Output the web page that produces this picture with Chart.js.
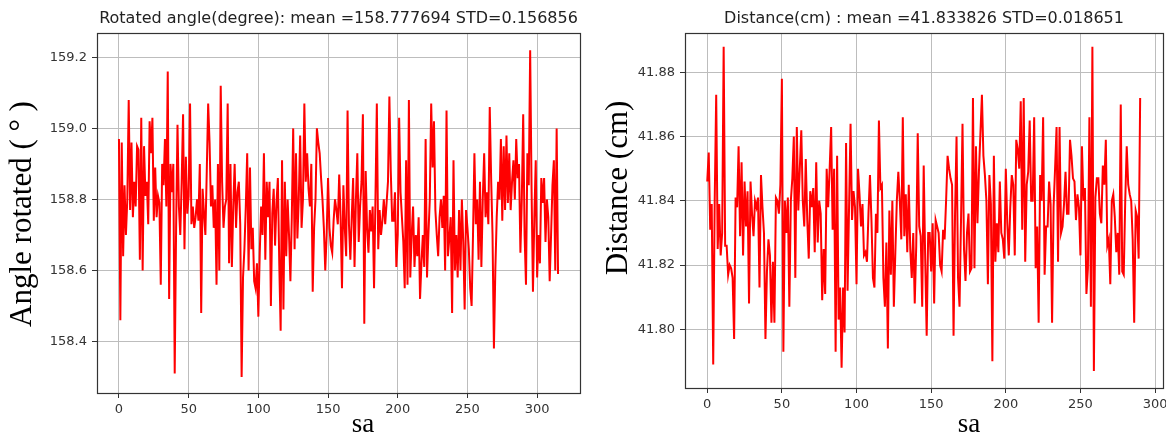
<!DOCTYPE html>
<html>
<head>
<meta charset="utf-8">
<script src="https://cdn.jsdelivr.net/npm/chart.js@4.4.1/dist/chart.umd.min.js"></script>
<style>
  html, body { margin: 0; padding: 0; background: #fff; }
  #wrap { position: relative; width: 1166px; height: 436px; overflow: hidden; }
  .pane { position: absolute; top: 0; width: 583px; height: 436px; }
  #paneL { left: 0; }
  #paneR { left: 583px; }
</style>
</head>
<body>
<div id="wrap">
  <div class="pane" id="paneL"><canvas id="chAngle" width="583" height="436"></canvas></div>
  <div class="pane" id="paneR"><canvas id="chDist" width="583" height="436"></canvas></div>
</div>
<script>
/* two matplotlib-style noise traces: rotation angle and distance per sample */
var TITLE_ANGLE = "Rotated angle(degree): mean =158.777694 STD=0.156856";
var TITLE_DIST = "Distance(cm) : mean =41.833826 STD=0.018651";

var X_TICKS_ANGLE = [0, 50, 100, 150, 200, 250, 300];
var Y_TICKS_ANGLE = [158.4, 158.6, 158.8, 159.0, 159.2];
var X_TICKS_DIST = [0, 50, 100, 150, 200, 250, 300];
var Y_TICKS_DIST = [41.80, 41.82, 41.84, 41.86, 41.88];

// rotated angle, samples 0..315
var ANGLE = [
  158.97, 158.46, 158.96, 158.64, 158.84, 158.70, 158.80, 159.08, 158.77, 158.96,
  158.75, 158.85, 158.78, 158.95, 158.94, 158.63, 159.03, 158.60, 158.95, 158.81,
  158.85, 158.73, 159.02, 158.93, 159.03, 158.74, 158.89, 158.75, 158.81, 158.79,
  158.56, 158.90, 158.84, 158.97, 158.78, 159.16, 158.52, 158.90, 158.82, 158.90,
  158.31, 158.72, 159.01, 158.78, 158.70, 158.85, 159.04, 158.66, 158.92, 158.76,
  158.81, 159.07, 158.73, 158.78, 158.72, 158.75, 158.80, 158.74, 158.90, 158.48,
  158.83, 158.76, 158.70, 158.88, 159.07, 158.96, 158.78, 158.84, 158.72, 158.80,
  158.56, 158.90, 158.60, 159.12, 158.85, 158.72, 158.78, 158.80, 159.07, 158.62,
  158.90, 158.61, 158.78, 158.90, 158.72, 158.82, 158.85, 158.73, 158.30, 158.58,
  158.66, 158.78, 158.93, 158.60, 158.89, 158.66, 158.72, 158.57, 158.55, 158.62,
  158.47, 158.65, 158.78, 158.70, 158.93, 158.63, 158.85, 158.75, 158.85, 158.50,
  158.76, 158.83, 158.67, 158.79, 158.86, 158.62, 158.43, 158.91, 158.49, 158.85,
  158.64, 158.80, 158.70, 158.57, 158.75, 159.00, 158.66, 158.93, 158.69, 158.80,
  158.98, 158.72, 158.80, 159.07, 158.85, 158.93, 158.83, 158.78, 158.90, 158.54,
  158.72, 158.80, 159.00, 158.96, 158.93, 158.86, 158.80, 158.72, 158.60, 158.70,
  158.86, 158.72, 158.67, 158.65, 158.74, 158.80, 158.77, 158.73, 158.87, 158.75,
  158.55, 158.84, 158.72, 158.64, 159.05, 158.73, 158.63, 158.75, 158.86, 158.61,
  158.80, 158.93, 158.68, 158.78, 158.85, 159.04, 158.45, 158.88, 158.72, 158.65,
  158.77, 158.71, 158.78, 158.55, 158.80, 159.07, 158.66, 158.77, 158.70, 158.74,
  158.80, 158.73, 158.79, 158.85, 159.09, 158.88, 158.74, 158.74, 158.82, 158.61,
  158.70, 159.03, 158.82, 158.75, 158.68, 158.55, 158.91, 158.56, 159.08, 158.58,
  158.70, 158.78, 158.61, 158.70, 158.64, 158.75, 158.52, 158.62, 158.70, 158.61,
  158.97, 158.58, 158.70, 158.80, 159.07, 158.89, 159.02, 158.77, 158.70, 158.64,
  158.75, 158.80, 158.72, 158.81, 158.60, 159.05, 158.64, 158.69, 158.75, 158.48,
  158.91, 158.60, 158.70, 158.58, 158.77, 158.60, 158.80, 158.68, 158.49, 158.77,
  158.72, 158.66, 158.55, 158.50, 158.70, 158.93, 158.73, 158.80, 158.63, 158.85,
  158.61, 158.80, 158.93, 158.75, 158.82, 158.73, 159.06, 158.86, 158.70, 158.38,
  158.60, 158.75, 158.85, 158.80, 158.97, 158.74, 158.95, 158.77, 158.98, 158.79,
  158.93, 158.77, 158.85, 158.91, 158.80, 158.97, 158.86, 158.90, 158.65, 158.80,
  159.04, 158.70, 158.56, 158.93, 158.84, 159.22, 158.83, 158.54, 158.75, 158.91,
  158.58, 158.70, 158.62, 158.86, 158.79, 158.86, 158.68, 158.80, 158.75, 158.57,
  158.70, 158.84, 158.91, 158.60, 159.00, 158.59
];

// distance, samples 0..290
var DIST = [
  41.846, 41.855, 41.831, 41.839, 41.789, 41.840, 41.873, 41.825, 41.839, 41.823,
  41.830, 41.888, 41.826, 41.826, 41.817, 41.820, 41.819, 41.816, 41.797, 41.841,
  41.838, 41.857, 41.829, 41.852, 41.823, 41.846, 41.832, 41.843, 41.808, 41.846,
  41.836, 41.829, 41.840, 41.838, 41.841, 41.813, 41.848, 41.838, 41.830, 41.797,
  41.818, 41.828, 41.823, 41.802, 41.821, 41.802, 41.841, 41.840, 41.836, 41.845,
  41.878, 41.793, 41.840, 41.830, 41.841, 41.807, 41.840, 41.847, 41.860, 41.816,
  41.863, 41.837, 41.850, 41.862, 41.840, 41.832, 41.853, 41.834, 41.822, 41.843,
  41.838, 41.844, 41.824, 41.852, 41.827, 41.840, 41.836, 41.809, 41.825, 41.811,
  41.850, 41.838, 41.850, 41.863, 41.831, 41.850, 41.793, 41.854, 41.803, 41.813,
  41.788, 41.813, 41.799, 41.858, 41.812, 41.838, 41.864, 41.834, 41.843, 41.838,
  41.814, 41.850, 41.842, 41.832, 41.839, 41.823, 41.824, 41.821, 41.836, 41.848,
  41.834, 41.816, 41.813, 41.836, 41.830, 41.865, 41.844, 41.845, 41.816, 41.807,
  41.827, 41.794, 41.837, 41.817, 41.840, 41.807, 41.824, 41.840, 41.849, 41.840,
  41.828, 41.866, 41.829, 41.842, 41.824, 41.845, 41.825, 41.816, 41.830, 41.808,
  41.826, 41.861, 41.832, 41.829, 41.807, 41.851, 41.822, 41.798, 41.830, 41.830,
  41.818, 41.833, 41.808, 41.834, 41.832, 41.830, 41.820, 41.818, 41.831, 41.828,
  41.840, 41.854, 41.850, 41.847, 41.845, 41.798, 41.836, 41.860, 41.816, 41.807,
  41.834, 41.864, 41.825, 41.815, 41.830, 41.836, 41.818, 41.819, 41.872, 41.819,
  41.857, 41.833, 41.849, 41.861, 41.873, 41.854, 41.848, 41.840, 41.814, 41.848,
  41.839, 41.790, 41.854, 41.821, 41.833, 41.824, 41.846, 41.830, 41.828, 41.822,
  41.850, 41.833, 41.823, 41.838, 41.848, 41.845, 41.823, 41.859, 41.856, 41.850,
  41.871, 41.831, 41.872, 41.821, 41.845, 41.849, 41.865, 41.840, 41.840, 41.866,
  41.819, 41.832, 41.802, 41.848, 41.840, 41.866, 41.817, 41.832, 41.832, 41.846,
  41.839, 41.802, 41.838, 41.850, 41.863, 41.821, 41.863, 41.830, 41.832, 41.839,
  41.849, 41.836, 41.836, 41.859, 41.854, 41.847, 41.846, 41.834, 41.842, 41.838,
  41.823, 41.857, 41.840, 41.844, 41.811, 41.819, 41.866, 41.807, 41.888, 41.787,
  41.841, 41.847, 41.847, 41.836, 41.833, 41.851, 41.845, 41.859, 41.826, 41.828,
  41.814, 41.840, 41.842, 41.835, 41.824, 41.830, 41.817, 41.870, 41.818, 41.817,
  41.840, 41.857, 41.845, 41.842, 41.840, 41.828, 41.802, 41.837, 41.835, 41.822,
  41.872
];

var TICK_FONT = { family: "'DejaVu Sans', sans-serif", size: 13 };
var GRID = "#bdbdbd", INK = "#333333";

// plot frame on all four sides, like matplotlib spines
var framePlugin = {
  id: "frame",
  afterDatasetsDraw: function (c) {
    var a = c.chartArea, g = c.ctx;
    g.save();
    g.strokeStyle = INK; g.lineWidth = 1.2;
    g.strokeRect(Math.round(a.left) + 0.5, Math.round(a.top) + 0.5, Math.round(a.right - a.left), Math.round(a.bottom - a.top));
    g.restore();
  }
};

// serif axis captions that were pasted onto the original figure
function captions(yText, yx, yy, xx, xy) {
  return {
    id: "captions",
    afterDraw: function (c) {
      var g = c.ctx;
      g.save();
      g.fillStyle = "#000";
      g.textAlign = "center"; g.textBaseline = "middle";
      g.font = "31px 'Liberation Serif', serif";
      g.translate(yx, yy); g.rotate(-Math.PI / 2);
      g.fillText(yText, 0, 0);
      g.restore();
      g.save();
      g.fillStyle = "#000";
      g.textAlign = "center"; g.textBaseline = "alphabetic";
      g.font = "27px 'Liberation Serif', serif";
      g.fillText("sa", xx, xy);
      g.restore();
    }
  };
}

// keep the plot box where the reference has it: no extra room for edge labels
function noEdgePadding(s) {
  s.paddingLeft = 0; s.paddingRight = 0; s.paddingTop = 0; s.paddingBottom = 0;
}

function makeChart(id, vals, cfg) {
  var pts = vals.map(function (v, i) { return { x: i, y: v }; });
  return new Chart(document.getElementById(id), {
    type: "line",
    data: { datasets: [{ data: pts, borderColor: "#ff0000", borderWidth: 2, pointRadius: 0, tension: 0, fill: false }] },
    options: {
      responsive: false, animation: false, events: [],
      layout: { padding: { left: 0, right: cfg.padRight, top: 0, bottom: 0 } },
      plugins: {
        legend: { display: false },
        tooltip: { enabled: false },
        title: {
          display: true, text: cfg.title, fullSize: false, color: "#222",
          font: { family: "'DejaVu Sans', sans-serif", size: 16, weight: "normal" },
          padding: { top: 9, bottom: 5 }
        }
      },
      scales: {
        x: {
          type: "linear", min: cfg.xMin, max: cfg.xMax,
          afterBuildTicks: function (s) { s.ticks = cfg.xTicks.map(function (v) { return { value: v }; }); },
          afterFit: function (s) { s.height = cfg.xAxisH; noEdgePadding(s); },
          grid: { color: GRID, lineWidth: 1, tickColor: INK, tickLength: 5, drawTicks: true },
          border: { display: false },
          ticks: { font: TICK_FONT, color: INK, padding: 4, maxRotation: 0, autoSkip: false }
        },
        y: {
          type: "linear", min: cfg.yMin, max: cfg.yMax,
          afterBuildTicks: function (s) { s.ticks = cfg.yTicks.map(function (v) { return { value: v }; }); },
          afterFit: function (s) { s.width = cfg.yAxisW; noEdgePadding(s); },
          grid: { color: GRID, lineWidth: 1, tickColor: INK, tickLength: 5, drawTicks: true },
          border: { display: false },
          ticks: { font: TICK_FONT, color: INK, padding: 5, autoSkip: false,
                   callback: function (v) { return Number(v).toFixed(cfg.dec); } }
        }
      }
    },
    plugins: [framePlugin, captions(cfg.yLabel, cfg.yLabelX, cfg.yLabelY, cfg.saX, cfg.saY)]
  });
}

makeChart("chAngle", ANGLE, {
  title: TITLE_ANGLE, xTicks: X_TICKS_ANGLE, yTicks: Y_TICKS_ANGLE, dec: 1,
  xMin: -15.75, xMax: 330.75, yMin: 158.255, yMax: 159.268,
  yAxisW: 97, xAxisH: 43, padRight: 3,
  yLabel: "Angle rotated ( \u00b0 )", yLabelX: 23, yLabelY: 214, saX: 363, saY: 432
});

makeChart("chDist", DIST, {
  title: TITLE_DIST, xTicks: X_TICKS_DIST, yTicks: Y_TICKS_DIST, dec: 2,
  xMin: -14.9, xMax: 305.3, yMin: 41.7817, yMax: 41.8922,
  yAxisW: 102, xAxisH: 48, padRight: 3,
  yLabel: "Distance (cm)", yLabelX: 36, yLabelY: 188, saX: 386, saY: 432
});
</script>
</body>
</html>
